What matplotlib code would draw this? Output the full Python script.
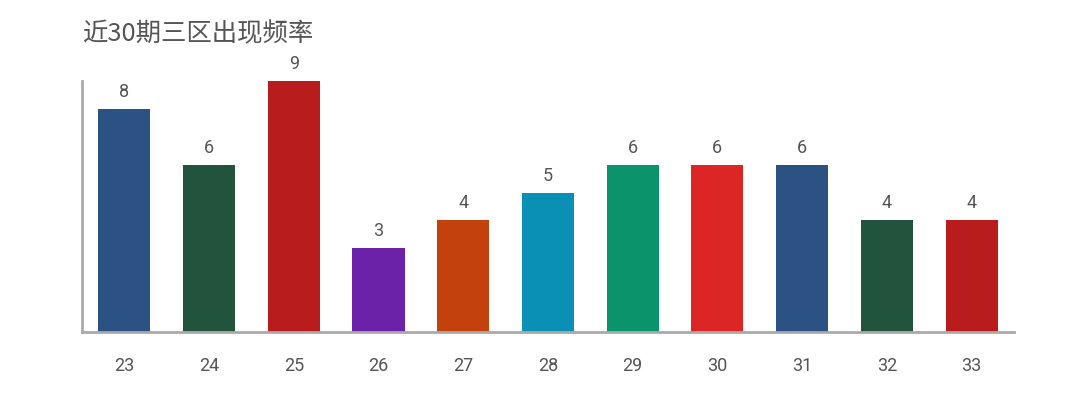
import matplotlib.pyplot as plt

plt.rcParams['font.family'] = ['Roboto', 'Noto Sans CJK SC', 'DejaVu Sans']

categories = ['23', '24', '25', '26', '27', '28', '29', '30', '31', '32', '33']
counts = [8, 6, 9, 3, 4, 5, 6, 6, 6, 4, 4]
colors = ['#2b5282', '#22543d', '#b91c1c', '#6b21a8', '#c2410c', '#0b90b5',
          '#0b946b', '#dc2626', '#2b5282', '#22543d', '#b91c1c']

fig = plt.figure(figsize=(10.87, 4.14), dpi=100)
ax = fig.add_axes([0.0754, 0.1957, 0.8574, 0.6063])

x = range(len(categories))
bars = ax.bar(x, counts, width=0.615, color=colors)

for rect, v in zip(bars, counts):
    ax.text(rect.get_x() + rect.get_width() / 2, v + 0.32, str(v),
            ha='center', va='bottom', fontsize=13, color='#555555', clip_on=False)

ax.set_xlim(-0.5, len(categories) - 0.5)
ax.set_ylim(0, 9)
ax.set_xticks(list(x))
ax.set_xticklabels(categories, fontsize=13, color='#555555')
ax.tick_params(axis='x', length=0, pad=17)
ax.set_yticks([])

for side in ['top', 'right']:
    ax.spines[side].set_visible(False)
for side in ['left', 'bottom']:
    ax.spines[side].set_color('#aaaaaa')
    ax.spines[side].set_linewidth(2)

fig.text(0.0754, 0.918, '近30期三区出现频率', fontsize=18.3, color='#555555',
         ha='left', va='center', family=['Noto Sans CJK SC', 'DejaVu Sans'])

fig.savefig('out.png', dpi=100)
